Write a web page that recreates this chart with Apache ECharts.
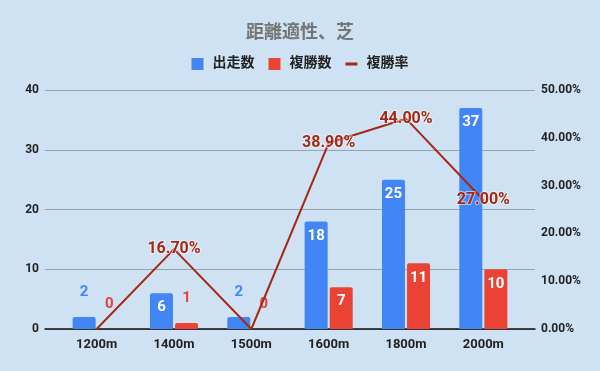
<!DOCTYPE html>
<html><head><meta charset="utf-8">
<script src="https://cdn.jsdelivr.net/npm/echarts@6/dist/echarts.min.js"></script>
<style>html,body{margin:0;padding:0;background:#cfe2f3}#c{width:600px;height:371px}</style>
</head><body><div id="c"></div>
<script>
const categories = ['1200m','1400m','1500m','1600m','1800m','2000m'];
const runs = [2, 6, 2, 18, 25, 37];
const places = [0, 1, 0, 7, 11, 10];
const placeRate = [0, 16.7, 0, 38.9, 44.0, 27.0];
const leftTicks = [0, 10, 20, 30, 40];
const rightTicks = [0, 10, 20, 30, 40, 50];

const FONT = 'Roboto, "Noto Sans CJK JP", sans-serif';
const BLUE = '#4285f4', RED = '#ea4335', DARK = '#a52714';

function barData(vals, color) {
  return vals.map(v => ({
    value: v,
    label: v < 5
      ? {position: 'top', color: color, distance: 17}
      : {position: 'insideTop', color: '#ffffff', distance: 7}
  }));
}

const chart = echarts.init(document.getElementById('c'));
chart.setOption({
  backgroundColor: '#cfe2f3',
  animation: false,
  textStyle: {fontFamily: FONT},
  title: {
    text: '距離適性、芝', left: 'center', top: 20,
    textStyle: {color: '#757575', fontSize: 18, fontWeight: 'bold', fontFamily: FONT}
  },
  legend: {
    top: 52, left: 'center', itemWidth: 12, itemHeight: 12, itemGap: 14,
    textStyle: {color: '#222', fontSize: 14, fontWeight: 'bold', fontFamily: FONT, padding: [0, 0, 0, 4]},
    data: [{name: '出走数', icon: 'rect'}, {name: '複勝数', icon: 'rect'},
      {name: '複勝率', icon: 'path://M0,0 L0.01,0 M0,4.5 L12,4.5 L12,7.5 L0,7.5 Z M0,12 L0.01,12',
       itemStyle: {color: DARK, opacity: 1}}]
  },
  grid: [
    {left: 45, right: 65, top: 90, bottom: 42},
    {left: 58, right: 78, top: 90, bottom: 42}
  ],
  xAxis: [
    {gridIndex: 0, type: 'category', data: [''], axisLine: {lineStyle: {color: '#111', width: 1.5}},
     axisTick: {show: false}, axisLabel: {show: false}},
    {gridIndex: 1, type: 'category', data: categories, axisLine: {show: false}, axisTick: {show: false},
     axisLabel: {color: '#222', fontSize: 13, fontWeight: 'bold', margin: 9, fontFamily: FONT}}
  ],
  yAxis: [
    {gridIndex: 0, type: 'value', min: leftTicks[0], max: leftTicks[leftTicks.length-1], interval: 10,
     axisLine: {show: false}, axisTick: {show: false},
     splitLine: {lineStyle: {color: '#9aa3ad', width: 1}},
     axisLabel: {color: '#222', fontSize: 12, fontWeight: 'bold', margin: 6, fontFamily: FONT}},
    {gridIndex: 0, type: 'value', position: 'right', min: rightTicks[0], max: rightTicks[rightTicks.length-1], interval: 10,
     axisLine: {show: false}, axisTick: {show: false}, splitLine: {show: false},
     axisLabel: {color: '#222', fontSize: 12, fontWeight: 'bold', margin: 6, fontFamily: FONT,
       formatter: v => v.toFixed(2) + '%'}},
    {gridIndex: 1, type: 'value', min: 0, max: 40, show: false},
    {gridIndex: 1, type: 'value', min: 0, max: 50, show: false}
  ],
  series: [
    {name: '出走数', type: 'bar', xAxisIndex: 1, yAxisIndex: 2, barWidth: 23, barGap: '9%',
     itemStyle: {color: BLUE, borderRadius: [2,2,0,0]},
     label: {show: true, fontSize: 15, fontWeight: 'bold', fontFamily: FONT},
     data: barData(runs, BLUE)},
    {name: '複勝数', type: 'bar', xAxisIndex: 1, yAxisIndex: 2, barWidth: 23,
     itemStyle: {color: RED, borderRadius: [2,2,0,0]},
     label: {show: true, fontSize: 15, fontWeight: 'bold', fontFamily: FONT},
     data: barData(places, RED)},
    {name: '複勝率', type: 'line', xAxisIndex: 1, yAxisIndex: 3, symbol: 'circle', symbolSize: 2, z: 5,
     showAllSymbol: true,
     lineStyle: {color: DARK, width: 2}, itemStyle: {color: DARK},
     label: {show: true, position: 'inside', color: DARK, fontSize: 16, fontWeight: 'bold', fontFamily: FONT,
       textBorderColor: 'rgba(255,255,255,0.55)', textBorderWidth: 2,
       formatter: p => p.value === 0 ? '' : p.value.toFixed(2) + '%'},
     data: placeRate}
  ]
});
</script></body></html>
